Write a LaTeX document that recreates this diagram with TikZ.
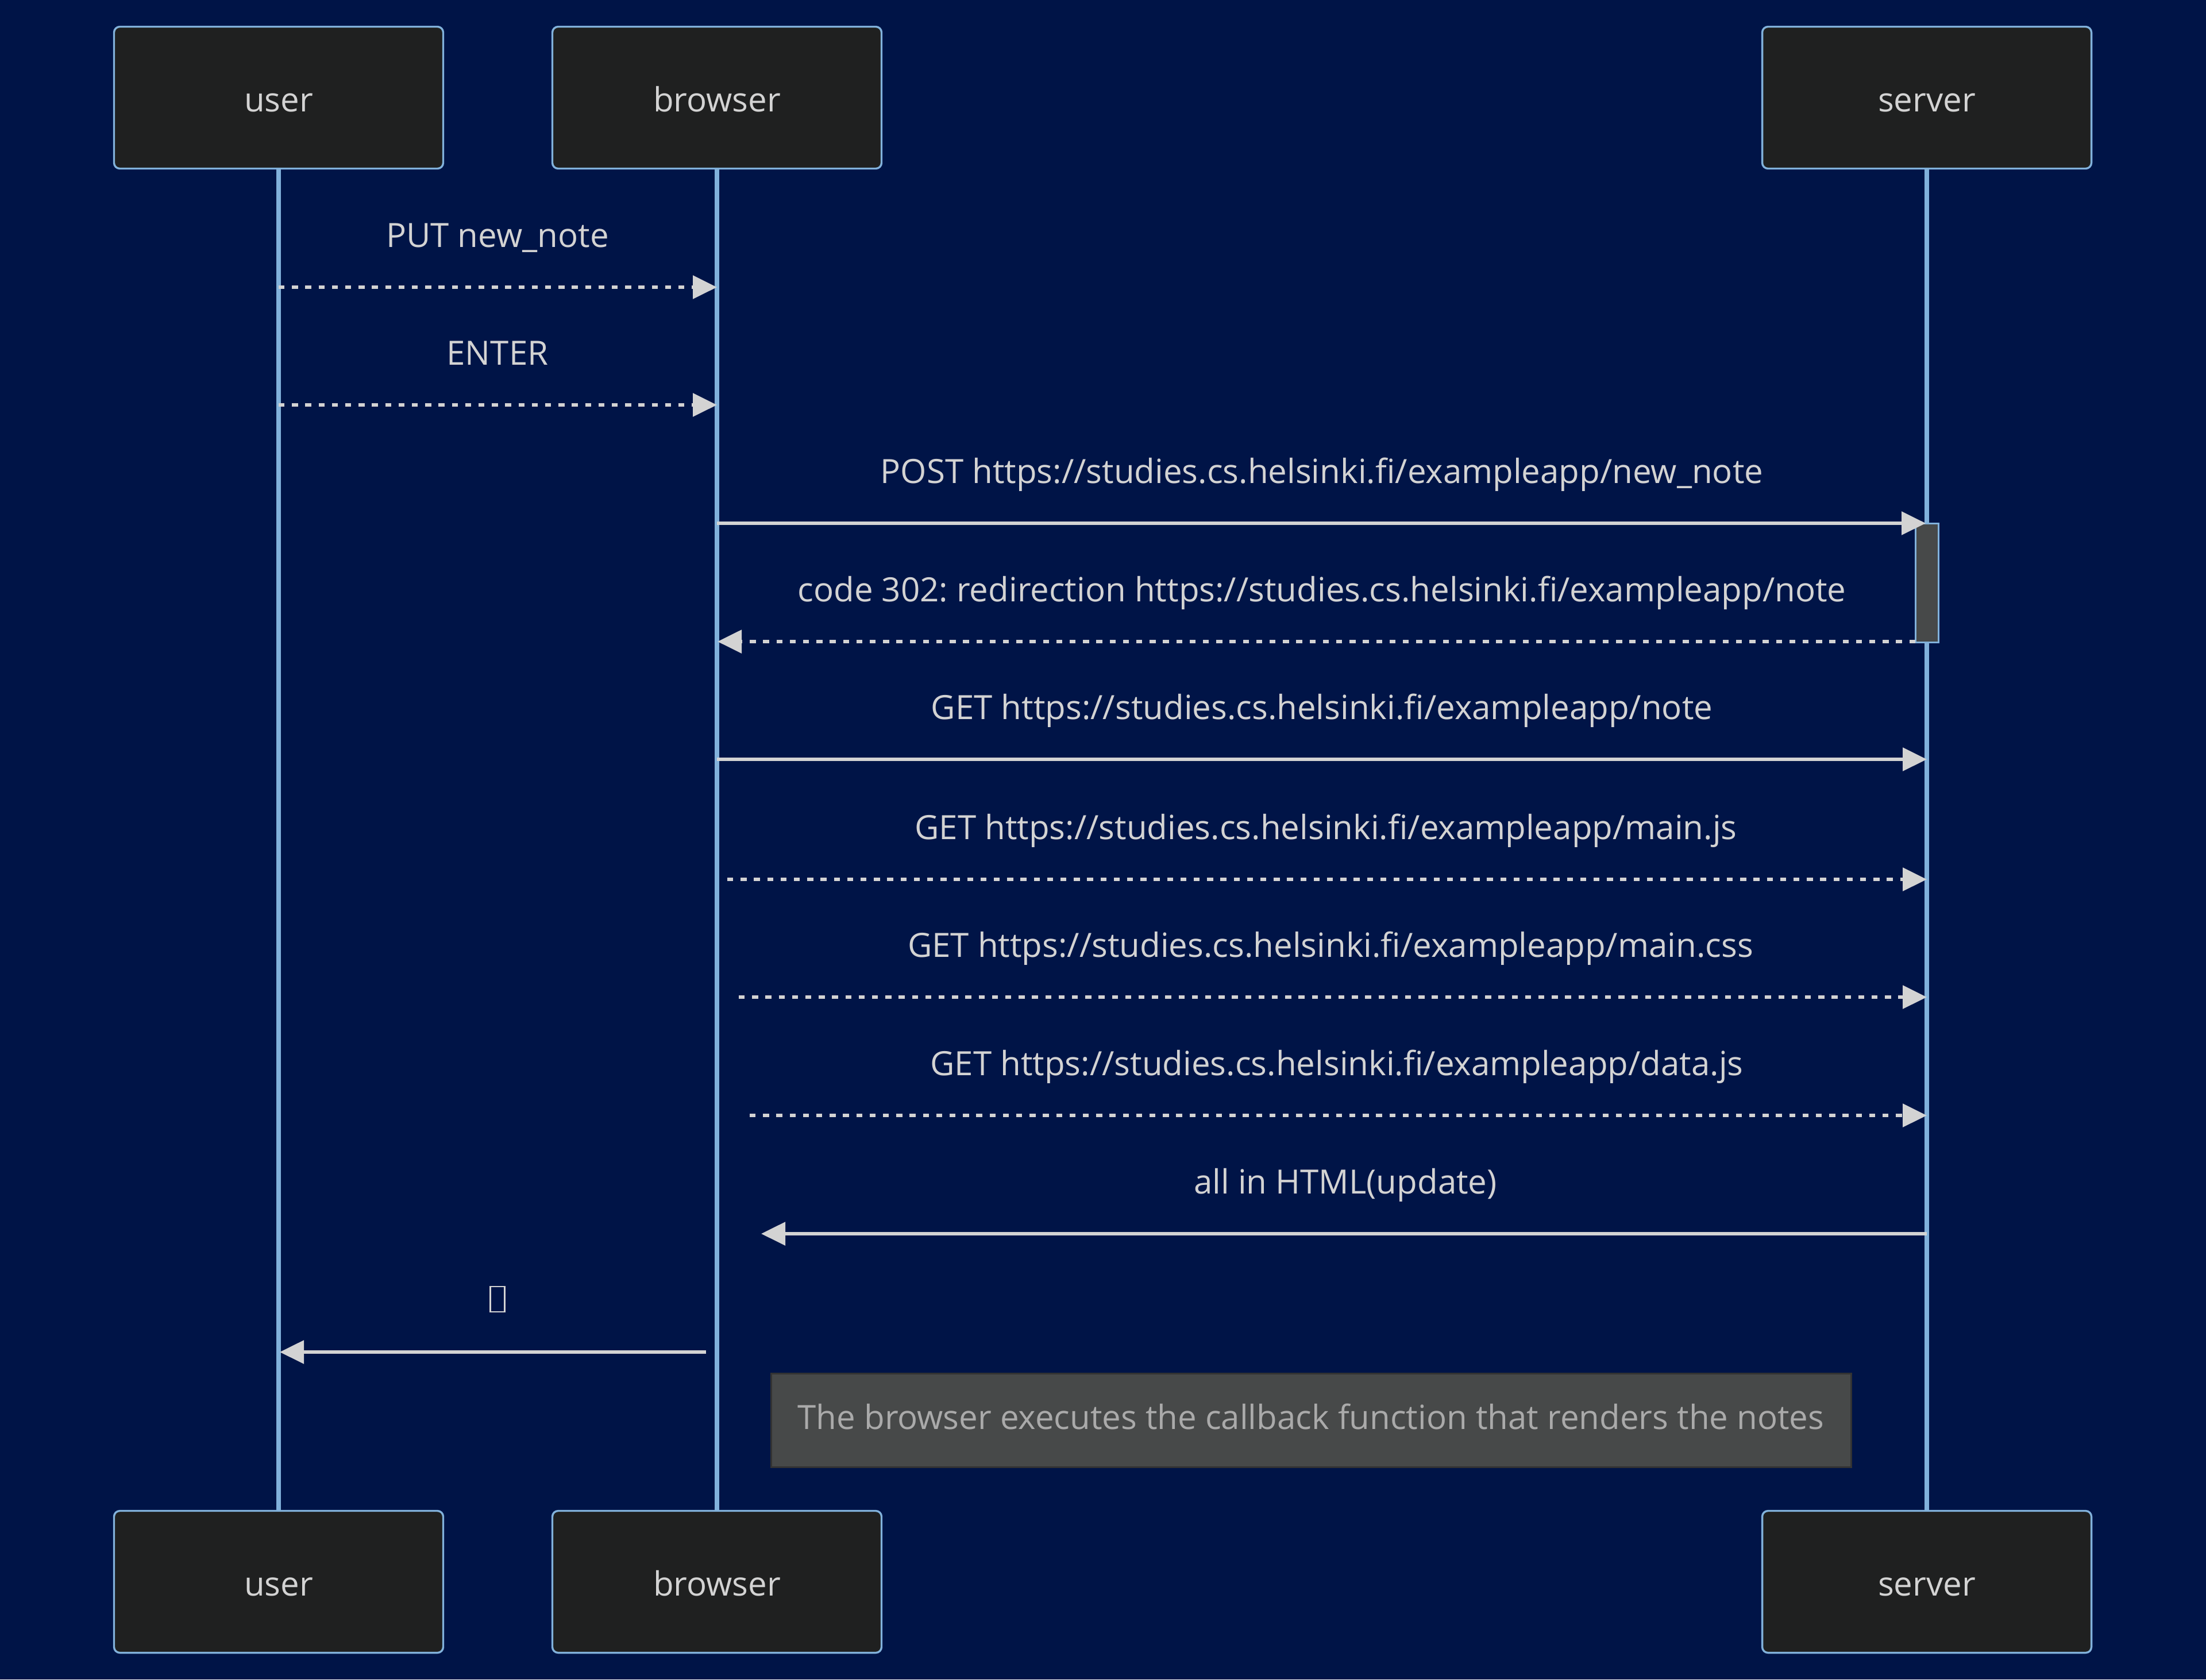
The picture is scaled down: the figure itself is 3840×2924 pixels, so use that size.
\documentclass[tikz,border=0pt]{standalone}
\usepackage{fontspec}
\setmainfont{Open Sans}
\usetikzlibrary{arrows.meta}
\pgfdeclarelayer{back}
\pgfsetlayers{back,main}
\definecolor{bgblue}{RGB}{0,20,71}
\definecolor{actorfill}{HTML}{1F2020}
\definecolor{actorline}{HTML}{81B1DB}
\definecolor{msgcol}{HTML}{D3D3D3}
\definecolor{greyfill}{HTML}{474949}
\definecolor{noteline}{HTML}{333333}
\definecolor{notetext}{HTML}{AAAAAA}
\frenchspacing
\begin{document}
\begin{tikzpicture}[x=0.25pt,y=-0.25pt,
  font=\fontsize{14.55pt}{17pt}\selectfont,
  actorbox/.style={draw=actorline, fill=actorfill, line width=0.85pt,
    rounded corners=2.5pt, minimum width=143.25pt, minimum height=61.75pt,
    inner sep=0pt, text=msgcol, text height=12pt, text depth=0pt},
  lifeline/.style={draw=actorline, line width=1.9pt},
  msgsolid/.style={draw=msgcol, line width=1.4pt,
    -{Triangle[length=10.5pt, width=10pt]}},
  msgdash/.style={msgsolid, dash pattern=on 2.6pt off 3.2pt},
  msglabel/.style={anchor=base, text=msgcol, inner sep=0pt},
  actbar/.style={draw=actorline, fill=greyfill, line width=0.75pt},
  notebox/.style={draw=noteline, fill=greyfill, line width=0.75pt}]

% page size
\useasboundingbox (0,0) rectangle (3840,2924);

% participant heads and feet
\node[actorbox] (ut) at (485,170) {user};
\node[actorbox] (bt) at (1248,170) {browser};
\node[actorbox] (st) at (3354,170) {server};
\node[actorbox] (ub) at (485,2754) {user};
\node[actorbox] (bb) at (1248,2754) {browser};
\node[actorbox] (sb) at (3354,2754) {server};

% background and lifelines, behind the boxes
\begin{pgfonlayer}{back}
  \fill[bgblue] (0,0) rectangle (3840,2924);
  \draw[lifeline] (ut.south) -- (ub.north);
  \draw[lifeline] (bt.south) -- (bb.north);
  \draw[lifeline] (st.south) -- (sb.north);
\end{pgfonlayer}

% activation of the server
\draw[actbar] (3334,911) rectangle (3374,1118);
\coordinate (actL) at (3334,1117);

% message end points
\coordinate (m1a) at (485,500);   \coordinate (m1b) at (1248,500);
\coordinate (m2a) at (485,705);   \coordinate (m2b) at (1248,705);
\coordinate (m3a) at (1248,911);  \coordinate (m3b) at (3352,911);
\coordinate (m4b) at (1249,1117);
\coordinate (m5a) at (1248,1322); \coordinate (m5b) at (3354,1322);
\coordinate (m6a) at (1266,1531); \coordinate (m6b) at (3354,1531);
\coordinate (m7a) at (1286,1736); \coordinate (m7b) at (3354,1736);
\coordinate (m8a) at (1305,1942); \coordinate (m8b) at (3354,1942);
\coordinate (m9a) at (3354,2148); \coordinate (m9b) at (1325,2148);
\coordinate (m10a) at (1229,2354); \coordinate (m10b) at (487,2354);

% messages
\draw[msgdash] (m1a) -- (m1b);
\node[msglabel] (l1) at (866,430) {PUT new\_note};
\draw[msgdash] (m2a) -- (m2b);
\node[msglabel] (l2) at (866,635) {ENTER};
\draw[msgsolid] (m3a) -- (m3b);
\node[msglabel] (l3) at (2301,841) {POST https://studies.cs.helsinki.fi/exampleapp/new\_note};
\draw[msgdash] (actL) -- (m4b);
\node[msglabel] (l4) at (2301,1047) {code 302: redirection https://studies.cs.helsinki.fi/exampleapp/note};
\draw[msgsolid] (m5a) -- (m5b);
\node[msglabel] (l5) at (2301,1252) {GET https://studies.cs.helsinki.fi/exampleapp/note};
\draw[msgdash] (m6a) -- (m6b);
\node[msglabel] (l6) at (2308,1461) {GET https://studies.cs.helsinki.fi/exampleapp/main.js};
\draw[msgdash] (m7a) -- (m7b);
\node[msglabel] (l7) at (2316,1666) {GET https://studies.cs.helsinki.fi/exampleapp/main.css};
\draw[msgdash] (m8a) -- (m8b);
\node[msglabel] (l8) at (2327,1872) {GET https://studies.cs.helsinki.fi/exampleapp/data.js};
\draw[msgsolid] (m9a) -- (m9b);
\node[msglabel] (l9) at (2342,2078) {all in HTML(update)};
\draw[msgsolid] (m10a) -- (m10b);
\node[draw=msgcol, line width=0.7pt, minimum width=6.25pt, minimum height=11pt,
  inner sep=0pt] (l10) at (866,2262) {};

% note over browser and server
\node[notebox, minimum width=470pt, minimum height=40.75pt, inner sep=0pt,
  text=notetext, text height=7.5pt, text depth=0pt] (note) at (2282,2473)
  {The browser executes the callback function that renders the notes};
\end{tikzpicture}
\end{document}
